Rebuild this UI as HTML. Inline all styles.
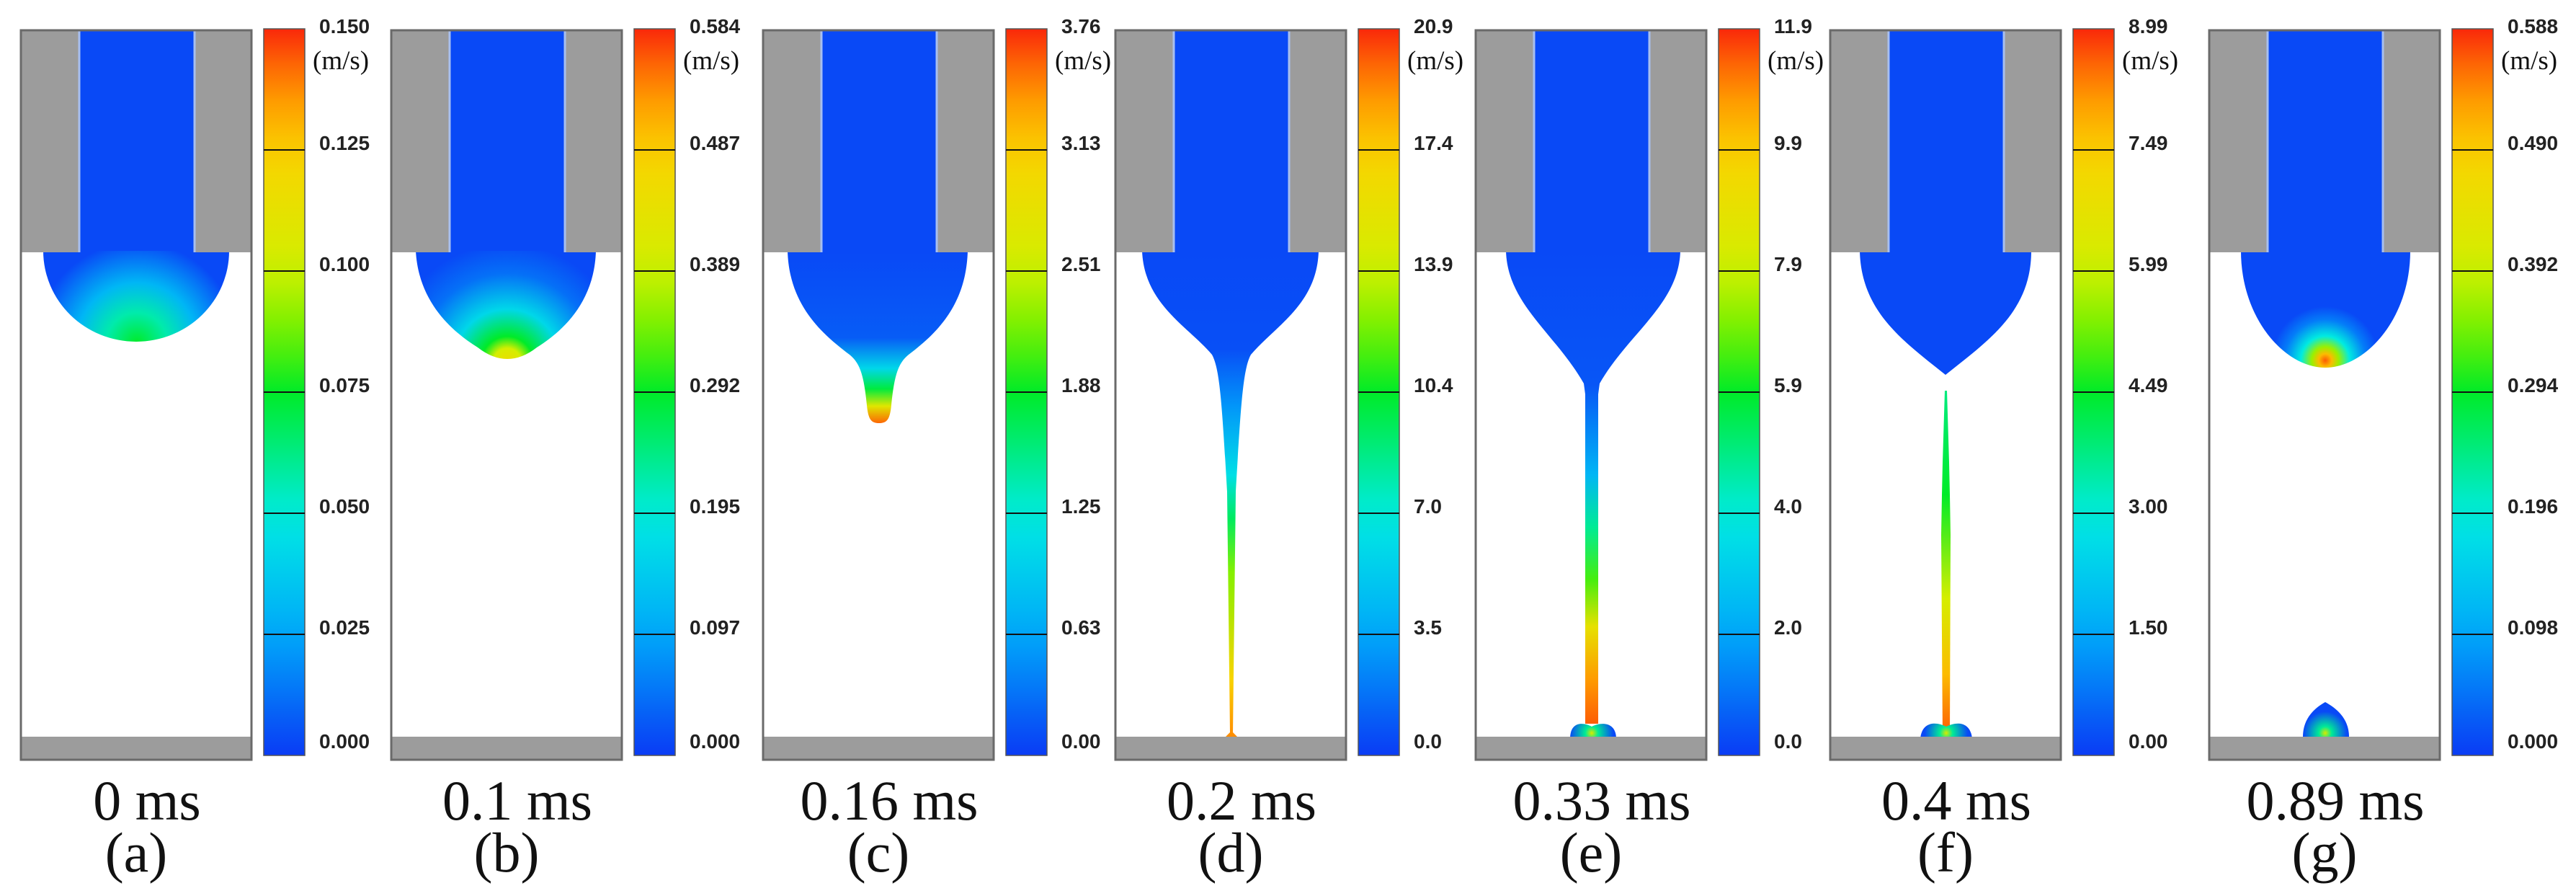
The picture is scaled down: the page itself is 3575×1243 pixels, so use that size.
<!DOCTYPE html>
<html><head><meta charset="utf-8">
<style>
html,body{margin:0;padding:0;background:#fff;}
svg{display:block;}
</style></head>
<body>
<svg id="fig" width="3575" height="1243" viewBox="0 0 3575 1243" xmlns="http://www.w3.org/2000/svg"></svg>
<script>
// ---- data ----
const panelIds = ['a','b','c','d','e','f','g'];
const timeLabels = ['0 ms','0.1 ms','0.16 ms','0.2 ms','0.33 ms','0.4 ms','0.89 ms'];
const letterLabels = ['(a)','(b)','(c)','(d)','(e)','(f)','(g)'];
const tickA = ['0.150','0.125','0.100','0.075','0.050','0.025','0.000'];
const tickB = ['0.584','0.487','0.389','0.292','0.195','0.097','0.000'];
const tickC = ['3.76','3.13','2.51','1.88','1.25','0.63','0.00'];
const tickD = ['20.9','17.4','13.9','10.4','7.0','3.5','0.0'];
const tickE = ['11.9','9.9','7.9','5.9','4.0','2.0','0.0'];
const tickF = ['8.99','7.49','5.99','4.49','3.00','1.50','0.00'];
const tickG = ['0.588','0.490','0.392','0.294','0.196','0.098','0.000'];
const ticks = [tickA,tickB,tickC,tickD,tickE,tickF,tickG];

// ---- layout ----
const boxLeft = [29,543,1059,1548,2048,2540,3066];
const TOP = 42, BOXH = 1012, BOXW = 320;
const BAR_TOP = 40, BAR_BOT = 1048, BAR_W = 57, BAR_OFF = 337;

const jetStops = [[0,[10,60,245]],[0.17,[0,170,250]],[0.33,[0,235,225]],[0.5,[0,235,40]],[0.58,[110,240,0]],[0.67,[210,240,0]],[0.83,[250,210,0]],[0.92,[255,140,0]],[1,[250,40,10]]];
function jet(t){
  t=Math.max(0,Math.min(1,t));
  for(let i=1;i<jetStops.length;i++){
    if(t<=jetStops[i][0]){
      const a=jetStops[i-1],b=jetStops[i];const f=(t-a[0])/(b[0]-a[0]);
      const c=a[1].map((v,k)=>Math.round(v+(b[1][k]-v)*f));
      return 'rgb('+c.join(',')+')';
    }
  }
  return 'rgb(250,40,10)';
}
const BLUE = jet(0.02);
const NS='http://www.w3.org/2000/svg';
const svg=document.getElementById('fig');
function el(tag,attrs,parent){const e=document.createElementNS(NS,tag);for(const k in attrs)e.setAttribute(k,attrs[k]);(parent||svg).appendChild(e);return e;}
const defs=el('defs',{});

// colorbar gradient
const cg=el('linearGradient',{id:'jetbar',x1:0,y1:1,x2:0,y2:0},defs);
for(let i=0;i<=20;i++){el('stop',{offset:i/20,'stop-color':jet(i/20)},cg);}

function linGrad(id,y0,y1,stops){
  const g=el('linearGradient',{id:id,gradientUnits:'userSpaceOnUse',x1:0,y1:y0,x2:0,y2:y1},defs);
  stops.forEach(s=>el('stop',{offset:s[0],'stop-color':jet(s[1])},g));
}
function radGrad(id,cx,cy,r,stops){
  const g=el('radialGradient',{id:id,gradientUnits:'userSpaceOnUse',cx:cx,cy:cy,r:r},defs);
  stops.forEach(s=>el('stop',{offset:s[0],'stop-color':jet(s[1])},g));
}
// fluid gradients (local coords)
radGrad('ga',161,434,140,[[0,0.5],[0.3,0.38],[0.6,0.2],[1,0.02]]);
radGrad('gb',161,461,165,[[0,0.78],[0.12,0.68],[0.22,0.5],[0.45,0.28],[0.75,0.08],[1,0.02]]);
linGrad('gc',308,545,[[0,0.02],[0.5,0.05],[0.68,0.28],[0.8,0.48],[0.9,0.72],[1,0.95]]);
linGrad('gd',308,980,[[0,0.02],[0.2,0.03],[0.32,0.14],[0.46,0.3],[0.55,0.45],[0.66,0.6],[0.88,0.82],[1,0.92]]);
linGrad('ge',308,965,[[0,0.02],[0.28,0.04],[0.47,0.2],[0.58,0.4],[0.69,0.55],[0.79,0.75],[0.9,0.9],[1,0.96]]);
linGrad('gf',500,980,[[0,0.42],[0.3,0.5],[0.6,0.68],[0.82,0.86],[1,0.96]]);
radGrad('gg',161,458,75,[[0,0.96],[0.12,0.86],[0.25,0.62],[0.45,0.33],[0.75,0.1],[1,0.02]]);
radGrad('gbump',161,975,30,[[0,0.7],[0.3,0.4],[1,0.02]]);

// fluid shapes per panel (local coords, box origin)
const shapes = [
  [['M31,306 A129,126 0 0 0 289,306 Z','url(#ga)']],
  [['M34,306 C38,380 88,420 120,440 Q161,472 202,440 C234,420 282,380 284,306 Z','url(#gb)']],
  [['M34,306 C36,380 80,420 120,450 C135,462 140,480 144,520 C146,540 150,545 161,545 C172,545 176,540 178,520 C182,480 187,462 202,450 C242,420 282,380 284,306 Z','url(#gc)']],
  [['M37,306 C40,380 100,410 134,450 C145,470 148,520 155,640 L159,976 L163,976 L167,640 C174,520 177,470 188,450 C222,410 280,380 282,306 Z','url(#gd)'],['M152,981 L170,981 L163,974 L159,974 Z','url(#gd)']],
  [['M42,306 C44,380 110,420 150,490 L152,505 L152,962 L170,962 L170,505 L172,490 C212,420 282,380 284,306 Z','url(#ge)'],['M131,983 C131,958 150,960 161,966 C172,960 195,958 195,983 Z','url(#gbump)']],
  [['M41,306 C43,390 100,430 160,478 C220,430 279,390 279,306 Z',BLUE],['M159,500 L156,600 L155,645 L154,700 L156,980 L166,980 L167,700 L166,645 L165,600 L162,500 Z','url(#gf)'],['M125,983 C127,960 145,958 161,966 C177,958 195,960 197,983 Z','url(#gbump)']],
  [['M44,306 C44,400 105,468 161,468 C217,468 279,400 279,306 Z','url(#gg)'],['M130,980 C130,952 150,938 161,932 C172,938 194,952 194,980 Z','url(#gbump)']]
];

panelIds.forEach((pid,i)=>{
  const X=boxLeft[i];
  const g=el('g',{transform:'translate('+X+','+TOP+')'});
  
  
  // box background
  el('rect',{x:0,y:0,width:BOXW,height:BOXH,fill:'#fff'},g);
  // channel fluid
  const ch=el('rect',{x:80,y:0,width:162,height:310,fill:BLUE},g);
  
  
  shapes[i].forEach((s,k)=>{
    const p=el('path',{d:s[0],fill:s[1]},g);
    
    
  });
  // nozzle walls
  const w1=el('rect',{x:0,y:0,width:80,height:308,fill:'#9c9c9c'},g);
  
  
  const w2=el('rect',{x:242,y:0,width:78,height:308,fill:'#9c9c9c'},g);
  
  
  el('line',{x1:81,y1:0,x2:81,y2:308,stroke:'#a8bff0','stroke-width':3},g);
  el('line',{x1:241,y1:0,x2:241,y2:308,stroke:'#a8bff0','stroke-width':3},g);
  // substrate
  const sb=el('rect',{x:0,y:980,width:BOXW,height:32,fill:'#9c9c9c'},g);
  
  
  // border
  el('rect',{x:0,y:0,width:BOXW,height:BOXH,fill:'none',stroke:'#6a6a6a','stroke-width':3},g);

  // colorbar
  const bx=X+BAR_OFF;
  const bar=el('rect',{x:bx,y:BAR_TOP,width:BAR_W,height:BAR_BOT-BAR_TOP,fill:'url(#jetbar)',stroke:'#555','stroke-width':1.5});
  
  
  const labs=ticks[i];
  const n=labs.length-1;
  for(let k=0;k<=n;k++){
    const y=BAR_TOP+(BAR_BOT-BAR_TOP)*k/n;
    if(k>0&&k<n){
      const ln=el('line',{x1:bx,y1:y,x2:bx+BAR_W,y2:y,stroke:'#111','stroke-width':2});
      
      
    }
    let ty = k===0 ? 46 : (k===n ? 1038 : y);
    const t=el('text',{x:bx+BAR_W+20,y:ty,'font-family':'Liberation Sans, sans-serif','font-weight':'bold','font-size':28,fill:'#222'});
    t.textContent=labs[k];
    
    
  }
  const u=el('text',{x:bx+BAR_W+11,y:96,'font-family':'Liberation Serif, serif','font-size':37,fill:'#111'});
  u.textContent='(m/s)';
  
  

  // time & letter labels
  const tl=el('text',{x:X+BOXW/2+15,y:1137,'text-anchor':'middle','font-family':'Liberation Serif, serif','font-size':78,fill:'#111'});
  tl.textContent=timeLabels[i];
  
  
  const ll=el('text',{x:X+BOXW/2,y:1209,'text-anchor':'middle','font-family':'Liberation Serif, serif','font-size':78,fill:'#111'});
  ll.textContent=letterLabels[i];
  
  
});
</script>
</body></html>
